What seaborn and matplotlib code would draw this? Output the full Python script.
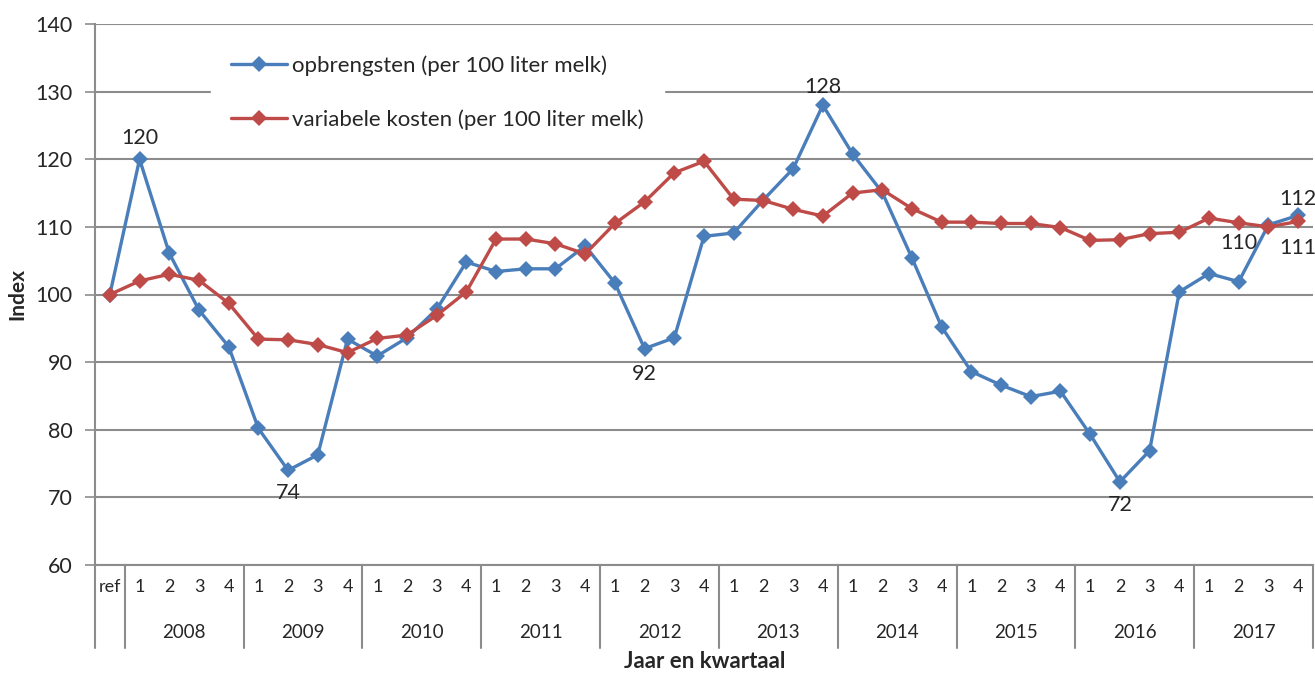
import matplotlib
matplotlib.use("Agg")
import matplotlib.pyplot as plt
import matplotlib.transforms as mtransforms
import pandas as pd
import seaborn as sns

# ---------------------------------------------------------------------------
# Data (index, ref = 100)
# ---------------------------------------------------------------------------
years = ["2008", "2009", "2010", "2011", "2012", "2013", "2014", "2015", "2016", "2017"]
quarters = ["1", "2", "3", "4"]
tick_labels = ["ref"] + quarters * len(years)

opbrengsten = [
    100.0,
    120.0, 106.1, 97.7, 92.3,
    80.2, 74.0, 76.3, 93.4,
    90.9, 93.6, 97.8, 104.8,
    103.4, 103.8, 103.8, 107.2,
    101.7, 92.0, 93.6, 108.6,
    109.1, 114.0, 118.6, 128.0,
    120.8, 115.1, 105.4, 95.2,
    88.6, 86.6, 84.9, 85.7,
    79.3, 72.3, 76.9, 100.4,
    103.1, 101.9, 110.3, 111.7,
]
variabele_kosten = [
    100.0,
    102.0, 103.0, 102.1, 98.7,
    93.4, 93.3, 92.6, 91.4,
    93.5, 94.0, 96.9, 100.4,
    108.2, 108.2, 107.5, 106.0,
    110.5, 113.7, 118.0, 119.7,
    114.1, 113.9, 112.6, 111.6,
    115.0, 115.5, 112.7, 110.7,
    110.7, 110.5, 110.5, 109.9,
    108.0, 108.1, 109.0, 109.2,
    111.3, 110.6, 110.0, 110.8,
]

label_opbrengsten = "opbrengsten (per 100 liter melk)"
label_kosten = "variabele kosten (per 100 liter melk)"

# data labels: (series, index, text, offset in points)
data_labels = [
    ("opb", 1, "120", (0, 15)),
    ("opb", 6, "74", (0, -16)),
    ("opb", 18, "92", (0, -18)),
    ("opb", 24, "128", (0, 13)),
    ("opb", 34, "72", (0, -17)),
    ("opb", 39, "110", (-21, -13)),
    ("opb", 40, "112", (0, 12)),
    ("kos", 40, "111", (0, -19)),
]

BLUE = "#4A7EBB"
RED = "#BE4B48"
GRID = "#8C8C8C"

df = pd.DataFrame({
    "pos": list(range(len(tick_labels))) * 2,
    "index": opbrengsten + variabele_kosten,
    "serie": [label_opbrengsten] * len(opbrengsten) + [label_kosten] * len(variabele_kosten),
})

sns.set_theme(style="white")
plt.rcParams["font.family"] = ["Lato", "DejaVu Sans"]

fig = plt.figure(figsize=(13.15, 6.73), dpi=100)
ax = fig.add_axes([95 / 1315, 1 - 565 / 673, 1218 / 1315, 541 / 673])

sns.lineplot(
    data=df, x="pos", y="index", hue="serie", style="serie",
    palette={label_opbrengsten: BLUE, label_kosten: RED},
    markers={label_opbrengsten: "D", label_kosten: "D"},
    dashes=False, linewidth=2.4, markersize=8, markeredgewidth=0,
    ax=ax,
)

ax.set_xlim(-0.5, len(tick_labels) - 0.5)
ax.set_ylim(60, 140)
ax.set_yticks(range(60, 141, 10))
ax.tick_params(axis="y", labelsize=15.5, length=7, width=1.2, color=GRID, direction="out",
               left=True, pad=9)
ax.yaxis.grid(True, color=GRID, linewidth=1.5)
ax.set_axisbelow(True)
for side in ["top", "right"]:
    ax.spines[side].set_visible(False)
ax.spines["left"].set_color(GRID)
ax.spines["left"].set_linewidth(1.5)
ax.spines["bottom"].set_color(GRID)
ax.spines["bottom"].set_linewidth(1.5)

ax.set_ylabel("Index", fontsize=15, fontweight="bold")
ax.yaxis.set_label_coords(-68 / 1218, 0.5)

# category axis: quarters on the first row, years on the second
ax.set_xticks(range(len(tick_labels)))
ax.set_xticklabels(tick_labels, fontsize=13)
ax.tick_params(axis="x", length=0, pad=10)
ax.set_xlabel("")

trans = mtransforms.blended_transform_factory(ax.transData, ax.transAxes)
sep_bottom = -(648 - 565) / 541
boundaries = [-0.5, 0.5] + [0.5 + 4 * (k + 1) for k in range(len(years))]
for b in boundaries:
    ax.plot([b, b], [0, sep_bottom], transform=trans, color=GRID, linewidth=1.5,
            clip_on=False)
for k, year in enumerate(years):
    ax.text(2.5 + 4 * k, -(633 - 565) / 541, year, transform=trans,
            ha="center", va="center", fontsize=13.5)

fig.text(705 / 1315, 1 - 662 / 673, "Jaar en kwartaal", ha="center", va="center",
         fontsize=16, fontweight="bold")

# data labels
series = {"opb": opbrengsten, "kos": variabele_kosten}
for key, idx, text, offset in data_labels:
    ax.annotate(text, (idx, series[key][idx]), xytext=offset, textcoords="offset points",
                ha="center", va="center", fontsize=15.5)

leg = ax.legend(
    loc="upper left", bbox_to_anchor=(105 / 1218, 1.0), frameon=True, fontsize=16,
    handlelength=2.5, labelspacing=1.5, borderpad=0.9, handletextpad=0.25,
)
leg.get_frame().set_facecolor("white")
leg.get_frame().set_edgecolor("white")
leg.get_frame().set_alpha(1)

fig.savefig("out.png", dpi=100)
